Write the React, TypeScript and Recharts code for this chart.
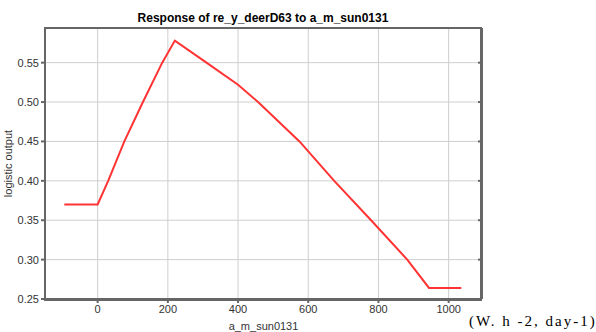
import * as React from "react";
import { LineChart, Line, XAxis, YAxis, CartesianGrid } from "recharts";

const sunValues = [-95, 0, 30, 76, 129, 184, 220, 310, 400, 457, 575, 674, 779, 882, 944, 1036];
const logisticOutput = [0.37, 0.37, 0.4, 0.45, 0.5, 0.55, 0.578, 0.55, 0.522, 0.5, 0.45, 0.4, 0.35, 0.3, 0.264, 0.264];

const xTicks = [0, 200, 400, 600, 800, 1000];
const yTicks = [0.25, 0.3, 0.35, 0.4, 0.45, 0.5, 0.55];
const Y_MAX = 0.594;

const data = sunValues.map((x, i) => ({ x, y: logisticOutput[i] }));

const AXIS = "#666";
const FONT = "'Liberation Sans', Arial, sans-serif";

const NoLabel = () => <g />;

const App: React.FC = () => (
  <div style={{ position: "absolute", left: 0, top: 0, width: 596, height: 332, background: "#fff" }}>
    <div
      style={{
        position: "absolute",
        left: 45,
        width: 436,
        top: 11,
        textAlign: "center",
        fontFamily: FONT,
        fontWeight: "bold",
        fontSize: 12,
        lineHeight: "14px",
        color: "#000",
      }}
    >
      Response of re_y_deerD63 to a_m_sun0131
    </div>
    <div style={{ position: "absolute", left: 0, top: 0 }}>
      <LineChart width={596} height={332} data={data} margin={{ top: 28, right: 114, bottom: 0, left: 0 }}>
        <CartesianGrid stroke="#cfcfcf" strokeWidth={1} />
        <XAxis
          dataKey="x"
          type="number"
          domain={[-150, 1095]}
          ticks={xTicks}
          allowDataOverflow
          height={33}
          stroke={AXIS}
          strokeWidth={2}
          tickSize={4}
          tick={{ fill: "#333", fontSize: 11, fontFamily: FONT }}
          label={{ value: "a_m_sun0131", position: "insideBottom", offset: 2, fill: "#333", fontSize: 11, fontFamily: FONT }}
        />
        <YAxis
          type="number"
          domain={[0.25, Y_MAX]}
          ticks={yTicks}
          allowDataOverflow
          width={45}
          stroke={AXIS}
          strokeWidth={2}
          tickSize={4}
          tickFormatter={(v: number) => v.toFixed(2)}
          tick={{ fill: "#333", fontSize: 11, fontFamily: FONT }}
          label={{ value: "logistic output", angle: -90, position: "insideLeft", offset: 8, fill: "#333", fontSize: 11, fontFamily: FONT, style: { textAnchor: "middle" } }}
        />
        <YAxis
          yAxisId="right"
          type="number"
          orientation="right"
          domain={[0.25, Y_MAX]}
          ticks={yTicks}
          allowDataOverflow
          width={1}
          mirror
          stroke={AXIS}
          strokeWidth={2}
          tickSize={4}
          tick={<NoLabel />}
        />
        <Line
          type="linear"
          dataKey="y"
          stroke="#ff3333"
          strokeWidth={2}
          dot={false}
          isAnimationActive={false}
        />
      </LineChart>
    </div>
    {/* frame round the plot box */}
    <div
      style={{
        position: "absolute",
        left: 44,
        top: 27,
        width: 434,
        height: 270,
        border: `2px solid ${AXIS}`,
        pointerEvents: "none",
        zIndex: 5,
      }}
    />
    <div
      style={{
        position: "absolute",
        left: 469,
        top: 313,
        fontFamily: "'Liberation Serif', 'DejaVu Serif', serif",
        fontSize: 15,
        letterSpacing: 2,
        whiteSpace: "nowrap",
        color: "#000",
      }}
    >
      (W. h -2, day-1)
    </div>
  </div>
);

export default App;
